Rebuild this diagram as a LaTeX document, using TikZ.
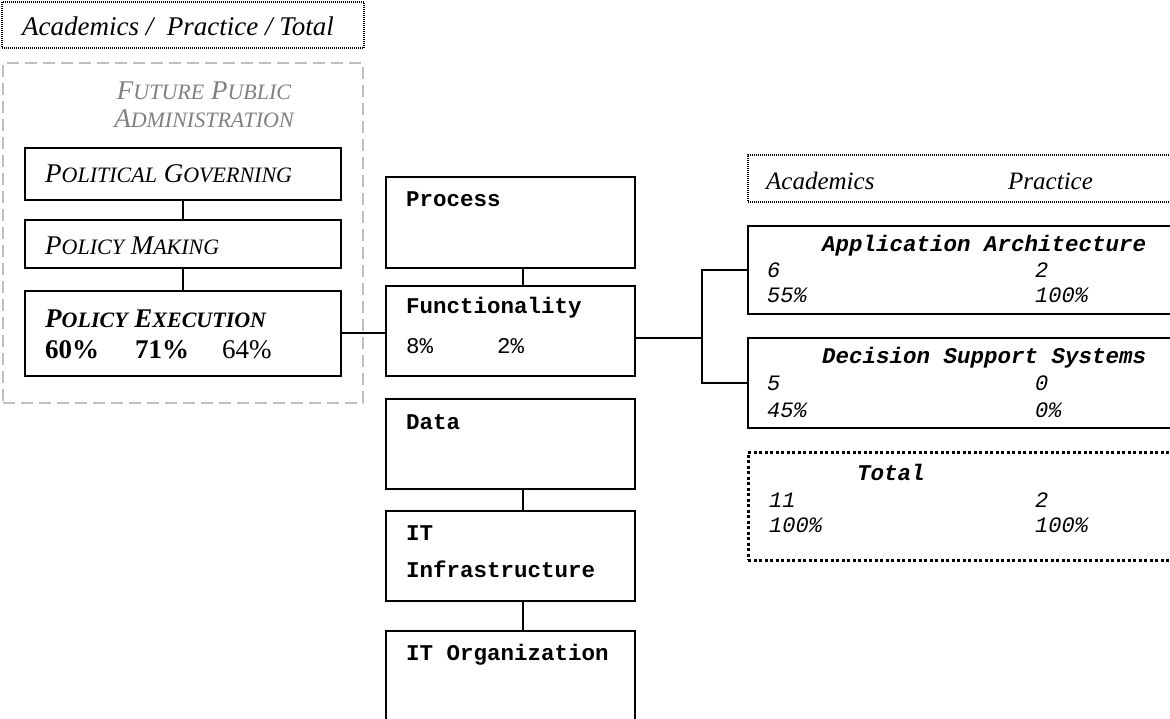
\documentclass[tikz,border=0pt]{standalone}
\usepackage{fontspec}
\setmainfont{Liberation Serif}
\setmonofont{Liberation Mono}
\newcommand{\smc}[1]{{\fontsize{22}{26}\selectfont #1}}
\begin{document}
\begin{tikzpicture}[x=1pt,y=-1pt,
  box/.style={draw, line width=1.7pt, rectangle, inner sep=0pt},
  keybox/.style={draw, line width=1.1pt, dash pattern=on 1pt off 1pt, rectangle, inner sep=0pt},
  totbox/.style={draw, line width=3pt, dash pattern=on 3pt off 2.5pt, rectangle, inner sep=0pt},
  zonebox/.style={draw=black!25, line width=1.5pt, dash pattern=on 12pt off 6pt, rectangle, inner sep=0pt},
  link/.style={line width=2pt},
  serif/.style={anchor=base west, inner sep=0pt, font=\fontsize{27}{32}\selectfont\itshape},
  hdrtext/.style={anchor=base west, inner sep=0pt, font=\fontsize{25}{30}\selectfont\itshape},
  zone/.style={anchor=base, inner sep=0pt, text=black!50, font=\fontsize{27}{32}\selectfont\itshape},
  upr/.style={anchor=base west, inner sep=0pt, font=\fontsize{27}{32}\selectfont},
  monob/.style={anchor=base west, inner sep=0pt, font=\fontsize{22.5}{27}\selectfont\ttfamily\bfseries},
  mono/.style={anchor=base west, inner sep=0pt, font=\fontsize{22.5}{27}\selectfont\ttfamily},
  monobi/.style={anchor=base west, inner sep=0pt, font=\fontsize{22.5}{27}\selectfont\ttfamily\bfseries\itshape},
  monoi/.style={anchor=base west, inner sep=0pt, font=\fontsize{22}{27}\selectfont\ttfamily\itshape},
]
\useasboundingbox (0,0) rectangle (1170,719);

% legend and administration zone
\node[keybox, minimum width=362pt, minimum height=46pt] (key) at (183,25) {};
\node[serif] (keyt) at (22,36) {Academics /\ \ Practice / Total};
\node[zonebox, minimum width=360pt, minimum height=340pt] (fpa) at (183,233) {};
\node[zone] (fpa1) at (204,100) {F\smc{UTURE} P\smc{UBLIC}};
\node[zone] (fpa2) at (204,128) {A\smc{DMINISTRATION}};

% administration levels
\node[box, minimum width=316pt, minimum height=52pt] (pg) at (183,174) {};
\node[box, minimum width=316pt, minimum height=48pt] (pm) at (183,244) {};
\node[box, minimum width=316pt, minimum height=85pt] (pe) at (183,333.5) {};
\node[serif] (pgt) at (45,183) {P\smc{OLITICAL} G\smc{OVERNING}};
\node[serif] (pmt) at (45,255) {P\smc{OLICY} M\smc{AKING}};
\node[serif, font=\fontsize{27}{32}\selectfont\bfseries\itshape] (pet) at (45,327) {P\smc{OLICY} E\smc{XECUTION}};
\node[upr, font=\fontsize{27}{32}\selectfont\bfseries] (pe1) at (45,358) {60\%};
\node[upr, font=\fontsize{27}{32}\selectfont\bfseries] (pe2) at (135,358) {71\%};
\node[upr] (pe3) at (222,358) {64\%};

% architecture layers
\node[box, minimum width=249pt, minimum height=91pt] (proc) at (510.5,222.5) {};
\node[box, minimum width=249pt, minimum height=90pt] (func) at (510.5,331) {};
\node[box, minimum width=249pt, minimum height=90pt] (data) at (510.5,444) {};
\node[box, minimum width=249pt, minimum height=90pt] (infra) at (510.5,556) {};
\node[box, minimum width=249pt, minimum height=109pt] (org) at (510.5,685.5) {};
\node[monob] (proct) at (406,207) {Process};
\node[monob] (funct) at (406,313) {Functionality};
\node[mono] (func1) at (406,353) {8\%};
\node[mono] (func2) at (497,353) {2\%};
\node[monob] (datat) at (406,429) {Data};
\node[monob] (infrat1) at (406,540) {IT};
\node[monob] (infrat2) at (406,577) {Infrastructure};
\node[monob] (orgt) at (406,660) {IT Organization};

% functionality breakdown
\node[keybox, minimum width=437pt, minimum height=47pt] (hdr) at (966.5,178.5) {};
\node[hdrtext] (hdra) at (766,190) {Academics};
\node[hdrtext] (hdrp) at (1008,190) {Practice};
\node[box, minimum width=437pt, minimum height=88pt] (aa) at (966.5,270) {};
\node[box, minimum width=437pt, minimum height=90pt] (dss) at (966.5,383) {};
\node[totbox, minimum width=437pt, minimum height=108pt] (tot) at (966.5,506) {};
\node[monobi] (aat) at (822,252) {Application Architecture};
\node[monoi] (aa1) at (767,278) {6};
\node[monoi] (aa2) at (767,303) {55\%};
\node[monoi] (aa3) at (1035,278) {2};
\node[monoi] (aa4) at (1035,303) {100\%};
\node[monobi] (dsst) at (822,363) {Decision Support Systems};
\node[monoi] (dss1) at (767,390) {5};
\node[monoi] (dss2) at (767,417) {45\%};
\node[monoi] (dss3) at (1035,390) {0};
\node[monoi] (dss4) at (1035,417) {0\%};
\node[monobi] (tott) at (857,480) {Total};
\node[monoi] (tot1) at (769,507) {11};
\node[monoi] (tot2) at (769,532) {100\%};
\node[monoi] (tot3) at (1035,507) {2};
\node[monoi] (tot4) at (1035,532) {100\%};

% connectors
\draw[link] (pg.south) -- (pm.north);
\draw[link] (pm.south) -- (pe.north);
\draw[link] (pe.east) -- (pe.east -| func.west);
\draw[link] ([xshift=12pt]proc.south) -- ([xshift=12pt]func.north);
\draw[link] ([xshift=12pt]data.south) -- ([xshift=12pt]infra.north);
\draw[link] ([xshift=12pt]infra.south) -- ([xshift=12pt]org.north);
\coordinate (br) at (702,338);
\draw[link] ([yshift=-7pt]func.east) -- (br);
\draw[link] (aa.west) -| (br);
\draw[link] (dss.west) -| (br);
\end{tikzpicture}
\end{document}
